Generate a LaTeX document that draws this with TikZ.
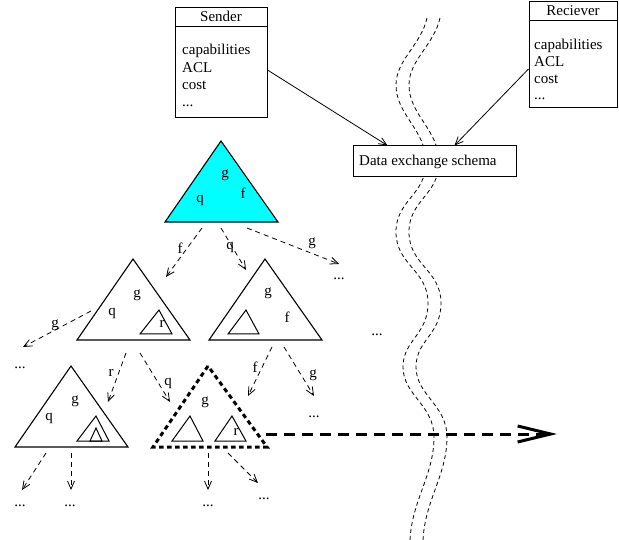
\documentclass[tikz,border=0pt]{standalone}
\usepackage{fontspec}
\setmainfont{Liberation Serif}
\usetikzlibrary{arrows.meta,calc}
\definecolor{rootcyan}{RGB}{0,255,255}
\begin{document}
\begin{tikzpicture}[x=1pt,y=-1pt,
  every node/.style={font=\fontsize{15}{18}\selectfont, inner sep=0pt},
  tri/.style={line width=1.1pt, line join=miter},
  itri/.style={line width=1pt, line join=miter},
  darr/.style={dash pattern=on 5pt off 4pt, line width=0.8pt, -{Straight Barb[length=8pt,width=7pt]}},
  sarr/.style={line width=0.8pt, -{Straight Barb[length=8pt,width=7pt]}},
  wave/.style={dash pattern=on 4pt off 3pt, line width=0.8pt},
  infobox/.style={draw, line width=1pt, fill=white},
  lbl/.style={anchor=center},
  txt/.style={anchor=base west},
  dots/.style={anchor=base}
]
\useasboundingbox (0,0) rectangle (619,540);

% wavy double boundary
\foreach \dx in {0,13}{
\draw[wave, xshift=\dx pt] (427,18) .. controls (421,45) and (396,60) .. (396,85)
  .. controls (396,115) and (426,130) .. (426,162)
  .. controls (426,195) and (396,200) .. (396,232)
  .. controls (396,265) and (428,270) .. (428,303)
  .. controls (428,335) and (403,340) .. (403,367)
  .. controls (403,395) and (434,405) .. (434,437)
  .. controls (434,475) and (412,500) .. (410,540);
}

% Sender box
\node[infobox, minimum width=92pt, minimum height=110pt] (sender) at (221,63) {};
\draw[line width=1pt] (sender.north west |- 0,27) -- (sender.north east |- 0,27);
\node[anchor=base] (sendert) at (221,22) {Sender};
\node[txt] (s1) at (182,55) {capabilities};
\node[txt] (s2) at (182,72.5) {ACL};
\node[txt] (s3) at (182,90) {cost};
\node[txt] (s4) at (182,107) {...};

% Receiver box
\node[infobox, minimum width=88pt, minimum height=106pt] (recv) at (573,55) {};
\draw[line width=1pt] (recv.north west |- 0,21) -- (recv.north east |- 0,21);
\node[anchor=base] (recvt) at (573,16) {Reciever};
\node[txt] (r1) at (534,50) {capabilities};
\node[txt] (r2) at (534,67) {ACL};
\node[txt] (r3) at (534,84) {cost};
\node[txt] (r4) at (534,100) {...};

% Data exchange schema
\node[infobox, minimum width=163pt, minimum height=31pt] (dex) at (434.5,161.5) {};
\node[txt] (dext) at (359,166) {Data exchange schema};

\draw[sarr] ([yshift=-7pt]sender.east) -- ([xshift=35pt]dex.north west);
\draw[sarr] ([yshift=-14pt]recv.west) -- ([xshift=102pt]dex.north west);

% Cyan root triangle
\draw[tri, fill=rootcyan] (221,141) -- (165,222) -- (278,222) -- cycle;
\node[lbl] (Ag) at (225,175) {g};
\node[lbl] (Af) at (243,193) {f};
\node[lbl] (Aq) at (200,200) {q};

% Triangle B (left middle)
\draw[tri] (133,259) -- (77,340) -- (190,340) -- cycle;
\draw[itri] (159,310) -- (140,334) -- (172,334) -- cycle;
\node[lbl] (Bg) at (137,295) {g};
\node[lbl] (Bq) at (112,313) {q};
\node[lbl] (Br) at (162,324) {r};

% Triangle C (right middle)
\draw[tri] (265,259) -- (209,340) -- (322,340) -- cycle;
\draw[itri] (246,310) -- (228,334) -- (259,334) -- cycle;
\node[lbl] (Cg) at (268,293) {g};
\node[lbl] (Cf) at (287,317) {f};

% Triangle D (bottom left)
\draw[tri] (71,366) -- (15,447) -- (128,447) -- cycle;
\draw[itri] (96,416) -- (77,441) -- (109,441) -- cycle;
\draw[itri] (96,428) -- (90,441) -- (102,441) -- cycle;
\node[lbl] (Dg) at (75,401) {g};
\node[lbl] (Dq) at (49,418) {q};

% Triangle E (thick dotted)
\draw[line width=3pt, dash pattern=on 4.5pt off 3.5pt] (208,366) -- (153,447) -- (267,447) -- cycle;
\draw[itri] (190,416) -- (172,441) -- (203,441) -- cycle;
\draw[itri] (232,416) -- (215,441) -- (246,441) -- cycle;
\node[lbl] (Eg) at (205,402) {g};
\node[lbl] (Er) at (236,432) {r};

% connector end points
\coordinate (a1) at (202,228); \coordinate (a1e) at (166,277);
\coordinate (a2) at (221,228); \coordinate (a2e) at (246,270);
\coordinate (a3) at (247,228); \coordinate (a3e) at (339,264);
\coordinate (b1) at (91,311);  \coordinate (b1e) at (23,347);
\coordinate (b2) at (126,353); \coordinate (b2e) at (108,402);
\coordinate (b3) at (140,353); \coordinate (b3e) at (170,402);
\coordinate (c1) at (272,347); \coordinate (c1e) at (248,396);
\coordinate (c2) at (284,347); \coordinate (c2e) at (314,396);
\coordinate (d1) at (46,453);  \coordinate (d1e) at (22,490);
\coordinate (d2) at (71,453);  \coordinate (d2e) at (71,490);
\coordinate (e1) at (208,453); \coordinate (e1e) at (208,490);
\coordinate (e2) at (228,453); \coordinate (e2e) at (258,483);
\coordinate (big) at (266,434); \coordinate (bige) at (557,434);

\draw[darr] (a1) -- (a1e);
\draw[darr] (a2) -- (a2e);
\draw[darr] (a3) -- (a3e);
\draw[darr] (b1) -- (b1e);
\draw[darr] (b2) -- (b2e);
\draw[darr] (b3) -- (b3e);
\draw[darr] (c1) -- (c1e);
\draw[darr] (c2) -- (c2e);
\draw[darr] (d1) -- (d1e);
\draw[darr] (d2) -- (d2e);
\draw[darr] (e1) -- (e1e);
\draw[darr] (e2) -- (e2e);

\draw[line width=3pt, dash pattern=on 11pt off 7pt, -{Straight Barb[length=33pt,width=16pt,line width=3pt]}] (big) -- (bige);

% arrow labels
\node[lbl] (la1) at (180,248) {f};
\node[lbl] (la2) at (230,247) {q};
\node[lbl] (la3) at (312,243) {g};
\node[lbl] (lb1) at (55,325) {g};
\node[lbl] (lb2) at (111,373) {r};
\node[lbl] (lb3) at (168,383) {q};
\node[lbl] (lc1) at (255,367) {f};
\node[lbl] (lc2) at (313,375) {g};

% ellipses
\node[dots] (o1) at (339,280) {...};
\node[dots] (o2) at (20,368) {...};
\node[dots] (o3) at (377,335) {...};
\node[dots] (o4) at (314,417) {...};
\node[dots] (o5) at (20,506) {...};
\node[dots] (o6) at (70,506) {...};
\node[dots] (o7) at (208,506) {...};
\node[dots] (o8) at (264,499) {...};
\end{tikzpicture}
\end{document}
